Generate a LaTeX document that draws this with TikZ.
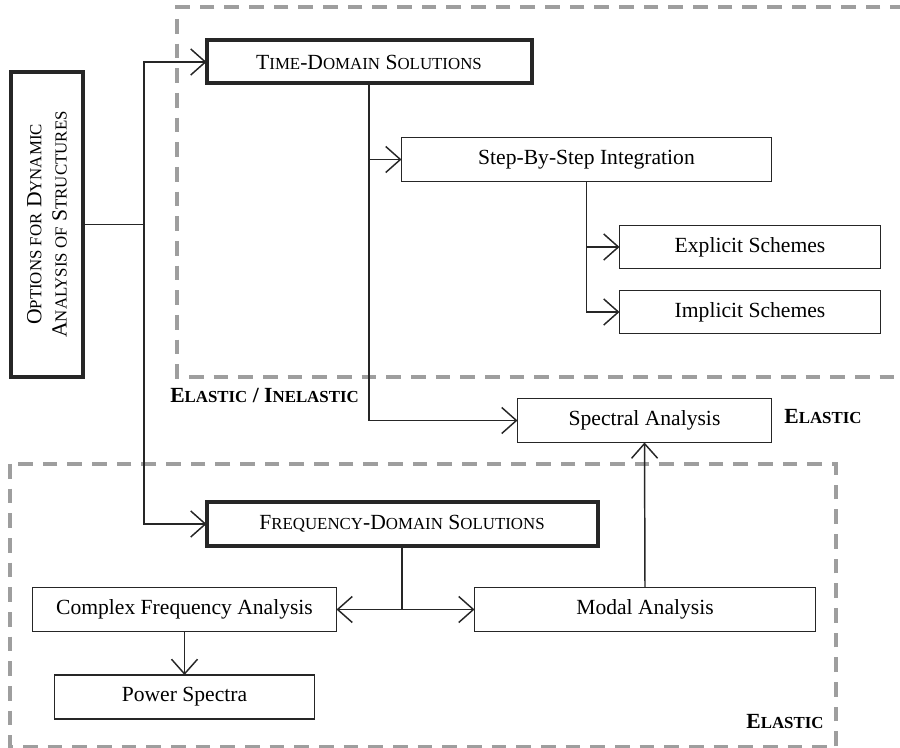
\documentclass[tikz,border=0pt]{standalone}
\usepackage{fontspec}
\setmainfont{Liberation Serif}
\newfontfamily\lowcapfont[Scale=0.78]{Liberation Serif}
\newcommand\lowcap[1]{{\lowcapfont #1}}
\usetikzlibrary{arrows.meta}
\begin{document}
\begin{tikzpicture}[x=0.75pt,y=-0.75pt,
  box/.style={draw=black!85,line width=1.1pt,inner sep=0pt,outer sep=0pt,minimum height=33pt,font=\fontsize{16.2}{19}\selectfont},
  tbox/.style={box,line width=3pt},
  conn/.style={draw=black!85,line width=1.1pt},
  arr/.style={conn,-{Straight Barb[length=11pt,width=19.5pt,line width=1.1pt]}},
  zone/.style={draw=black!38,line width=2.5pt,dash pattern=on 11pt off 7.5pt},
  lab/.style={font=\fontsize{16.2}{19}\selectfont\bfseries,inner sep=0pt}]
\useasboundingbox (0,0) rectangle (900,748);
% zones
\draw[zone] (905,7) -- (177,7) -- (177,377) -- (905,377);
\draw[zone] (10,464) rectangle (836,747);
% nodes
\node[tbox,minimum width=228.75pt,minimum height=54pt,align=center,rotate=90] (opt) at (47,224.5)
  {O\lowcap{PTIONS FOR} D\lowcap{YNAMIC}\\A\lowcap{NALYSIS OF} S\lowcap{TRUCTURES}};
\coordinate (optr) at (83,224.5);
\node[tbox,minimum width=243.75pt,minimum height=32.25pt] (td) at (369,62) {T\lowcap{IME}-D\lowcap{OMAIN} S\lowcap{OLUTIONS}};
\node[box,minimum width=277.5pt] (st) at (586.5,159.5) {Step-By-Step Integration};
\node[box,minimum width=195.75pt,minimum height=32.25pt] (ex) at (750,247) {Explicit Schemes};
\node[box,minimum width=195.75pt,minimum height=32.25pt] (im) at (750,312) {Implicit Schemes};
\node[box,minimum width=190.5pt] (sp) at (644.5,420.5) {Spectral Analysis};
\node[tbox,minimum width=293.25pt,minimum height=32.25pt] (fd) at (402,524) {F\lowcap{REQUENCY}-D\lowcap{OMAIN} S\lowcap{OLUTIONS}};
\node[box,minimum width=228pt] (cx) at (184.5,609.5) {Complex Frequency Analysis};
\node[box,minimum width=255.75pt] (md) at (645,609.5) {Modal Analysis};
\node[box,minimum width=195pt] (pw) at (184.5,697) {Power Spectra};
% labels
\node[lab] (l1) at (264.5,395) {E\lowcap{LASTIC} / I\lowcap{NELASTIC}};
\node[lab] (l2) at (823,417) {E\lowcap{LASTIC}};
\node[lab] (l3) at (785,722) {E\lowcap{LASTIC}};
% connectors
\coordinate (j1) at (144,224.5);
\draw[conn] (optr) -- (j1);
\draw[arr] (j1) |- (td.west);
\draw[arr] (j1) |- (fd.west);
\draw[arr] (td.south) |- (sp.west);
\draw[arr] (td.south |- st.west) -- (st.west);
\draw[arr] (st.south) |- (im.west);
\draw[arr] (st.south |- ex.west) -- (ex.west);
\draw[arr] (fd.south) |- (cx.east);
\draw[arr] (fd.south) |- (md.west);
\draw[arr] (cx.south) -- (pw.north);
\draw[arr] (md.north) -- (sp.south);
\end{tikzpicture}
\end{document}
